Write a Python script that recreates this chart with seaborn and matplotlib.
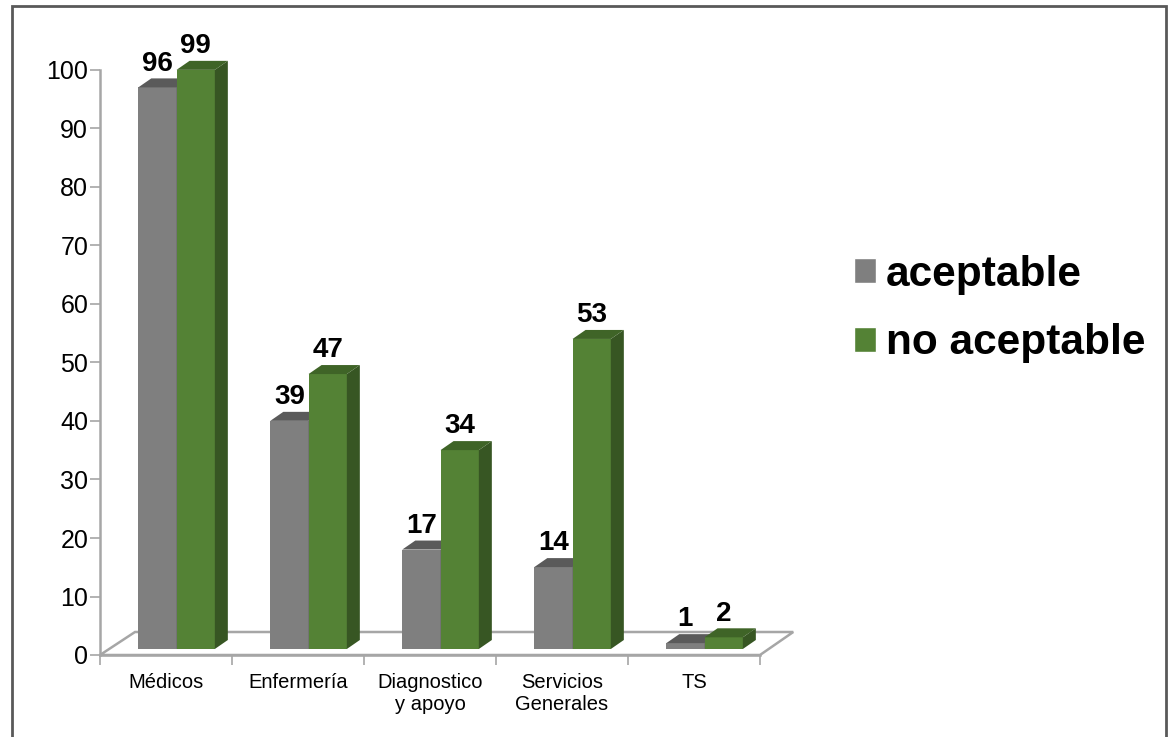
import pandas as pd
import matplotlib.pyplot as plt
import seaborn as sns
from matplotlib.patches import Polygon, Patch, Rectangle
from matplotlib.ticker import FixedLocator

sns.set_style('white')
plt.rcParams['font.family'] = ['Liberation Sans', 'DejaVu Sans']
plt.rcParams['text.color'] = 'black'
plt.rcParams['xtick.labelcolor'] = 'black'
plt.rcParams['ytick.labelcolor'] = 'black'

# data
areas = ['Médicos', 'Enfermería', 'Diagnostico\ny apoyo', 'Servicios\nGenerales', 'TS']
aceptable = [96, 39, 17, 14, 1]
no_aceptable = [99, 47, 34, 53, 2]
grupos = ['aceptable', 'no aceptable']

df = pd.DataFrame({
    'area': areas * 2,
    'valor': aceptable + no_aceptable,
    'grupo': [grupos[0]] * len(areas) + [grupos[1]] * len(areas),
})

grey, grey_top, grey_side = '#7f7f7f', '#5a5a5a', '#666666'
green, green_top, green_side = '#548235', '#3f6427', '#375623'
edge = '#a6a6a6'

W, H = 1170, 737
fig = plt.figure(figsize=(W / 100, H / 100), dpi=100)
ax = fig.add_axes([100 / W, 1 - 655 / H, 660 / W, 585 / H])

sns.barplot(data=df, x='area', y='valor', hue='grupo', palette=[grey, green],
            width=0.58, saturation=1, legend=False, ax=ax, zorder=2)
ax.set_xlim(-0.5, len(areas) - 0.5)
ax.set_ylim(0, 100)

# depth of the fake 3d bars, in pixels -> data units
p0, p1 = ax.transData.transform([(0, 0), (1, 1)])
ux = p1[0] - p0[0]
uy = p1[1] - p0[1]
ddx = 13 / ux
ddy = 9 / uy
lift = 6 / uy  # bars stand a little behind the front edge of the floor

# floor
fx = 35 / ux
fy = 23 / uy
x_lo, x_hi = ax.get_xlim()
floor = Polygon([(x_lo, 0), (x_hi, 0), (x_hi + fx * 0.95, fy), (x_lo + fx, fy)],
                closed=True, facecolor='white', edgecolor=edge, lw=1.8,
                zorder=1, clip_on=False)
ax.add_patch(floor)

faces = [(grey_top, grey_side, 2), (green_top, green_side, 3)]
shift = 0.08
for cont, (ctop, cside, z) in zip(ax.containers, faces):
    for p in cont.patches:
        p.set_x(p.get_x() + shift)
        p.set_y(p.get_y() + lift)
        p.set_edgecolor('none')
        p.set_zorder(z)
        x0, w, h = p.get_x(), p.get_width(), p.get_height()
        y0, y1 = p.get_y(), p.get_y() + h
        top = Polygon([(x0, y1), (x0 + w, y1), (x0 + w + ddx, y1 + ddy), (x0 + ddx, y1 + ddy)],
                      closed=True, facecolor=ctop, edgecolor='none', zorder=z, clip_on=False)
        side = Polygon([(x0 + w, y0), (x0 + w + ddx, y0 + ddy), (x0 + w + ddx, y1 + ddy), (x0 + w, y1)],
                       closed=True, facecolor=cside, edgecolor='none', zorder=z, clip_on=False)
        ax.add_patch(side)
        ax.add_patch(top)
        ax.annotate(f'{h:.0f}', (x0 + w / 2, y1), xytext=(0, 12), textcoords='offset points',
                    ha='center', va='baseline', fontsize=20, fontweight='bold',
                    color='black', annotation_clip=False, zorder=5)

ax.set_xlabel('')
ax.set_ylabel('')
ax.set_yticks(range(0, 101, 10))
ax.tick_params(axis='y', which='major', labelsize=18, length=7, width=1.2,
               color=edge, pad=1.5, left=True)
ax.tick_params(axis='x', which='major', labelsize=14.5, length=0, pad=13)
ax.xaxis.set_minor_locator(FixedLocator([i - 0.5 for i in range(len(areas) + 1)]))
ax.tick_params(axis='x', which='minor', length=7, width=1.2, color=edge, bottom=True)

for s in ['top', 'right']:
    ax.spines[s].set_visible(False)
for s in ['left', 'bottom']:
    ax.spines[s].set_color(edge)
    ax.spines[s].set_linewidth(1.8)
    ax.spines[s].set_zorder(1)

handles = [Patch(facecolor=grey, label=grupos[0]), Patch(facecolor=green, label=grupos[1])]
fig.legend(handles=handles, loc='center left', bbox_to_anchor=(854 / W, 1 - 309 / H),
           frameon=False, prop={'size': 30.5, 'weight': 'bold'}, labelcolor='black',
           handlelength=0.53, handleheight=0.53, handletextpad=0.22, labelspacing=0.68,
           borderpad=0, borderaxespad=0)

fig.patches.append(Rectangle((12 / W, -0.01), (1166 - 12) / W, 1 - 6 / H + 0.01,
                             transform=fig.transFigure, fill=False,
                             edgecolor='#595959', lw=2, zorder=0))

fig.savefig('out.png', dpi=100)
